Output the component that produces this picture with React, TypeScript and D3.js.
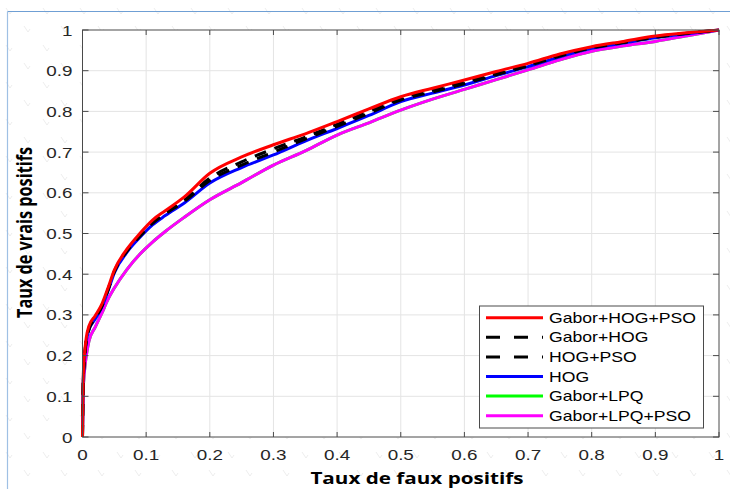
import React from "react";
import * as d3 from "d3";

// False positive rate sample points shared by every ROC curve
const fpr = [0, 0.001, 0.003, 0.006, 0.01, 0.02, 0.03, 0.04, 0.05, 0.07, 0.09, 0.11, 0.13, 0.16, 0.2, 0.25, 0.3, 0.35, 0.4, 0.45, 0.5, 0.55, 0.6, 0.65, 0.7, 0.75, 0.8, 0.85, 0.9, 0.95, 1];

// True positive rates per descriptor combination
const tprGaborHogPso = [0, 0.14, 0.2, 0.245, 0.272, 0.298, 0.325, 0.366, 0.41, 0.462, 0.5, 0.533, 0.556, 0.59, 0.648, 0.688, 0.718, 0.745, 0.775, 0.806, 0.836, 0.857, 0.877, 0.898, 0.918, 0.941, 0.959, 0.972, 0.985, 0.993, 1];
const tprGaborHog = [0, 0.13, 0.19, 0.24, 0.266, 0.294, 0.321, 0.362, 0.407, 0.458, 0.495, 0.527, 0.55, 0.582, 0.636, 0.676, 0.708, 0.737, 0.768, 0.8, 0.832, 0.852, 0.872, 0.893, 0.914, 0.938, 0.957, 0.97, 0.983, 0.992, 1];
const tprHogPso = [0, 0.13, 0.19, 0.238, 0.264, 0.292, 0.32, 0.361, 0.406, 0.457, 0.493, 0.525, 0.548, 0.579, 0.63, 0.668, 0.7, 0.732, 0.763, 0.795, 0.828, 0.848, 0.868, 0.89, 0.912, 0.936, 0.956, 0.969, 0.982, 0.992, 1];
const tprHog = [0, 0.13, 0.185, 0.235, 0.262, 0.29, 0.318, 0.358, 0.403, 0.454, 0.49, 0.521, 0.544, 0.575, 0.624, 0.662, 0.693, 0.727, 0.758, 0.79, 0.824, 0.845, 0.865, 0.888, 0.91, 0.934, 0.955, 0.968, 0.981, 0.991, 1];
const tprGaborLpq = [0, 0.11, 0.16, 0.2, 0.235, 0.27, 0.303, 0.338, 0.366, 0.412, 0.449, 0.479, 0.505, 0.54, 0.583, 0.625, 0.668, 0.703, 0.742, 0.772, 0.803, 0.83, 0.854, 0.878, 0.902, 0.927, 0.948, 0.961, 0.972, 0.986, 1];
const tprGaborLpqPso = [0, 0.11, 0.16, 0.2, 0.235, 0.27, 0.303, 0.338, 0.366, 0.412, 0.449, 0.479, 0.505, 0.54, 0.583, 0.625, 0.668, 0.703, 0.742, 0.772, 0.803, 0.83, 0.854, 0.878, 0.902, 0.927, 0.948, 0.961, 0.972, 0.986, 1];

const seriesNames = ["Gabor+HOG+PSO", "Gabor+HOG", "HOG+PSO", "HOG", "Gabor+LPQ", "Gabor+LPQ+PSO"];
const seriesColors = ["#ff0000", "#000000", "#000000", "#0000ff", "#00ff00", "#ff00ff"];
const seriesDashed = [false, true, true, false, false, false];
const seriesValues = [tprGaborHogPso, tprGaborHog, tprHogPso, tprHog, tprGaborLpq, tprGaborLpqPso];

const tickValues = [0, 0.1, 0.2, 0.3, 0.4, 0.5, 0.6, 0.7, 0.8, 0.9, 1];
const tickLabels = ["0", "0.1", "0.2", "0.3", "0.4", "0.5", "0.6", "0.7", "0.8", "0.9", "1"];

const xTitle = "Taux de faux positifs";
const yTitle = "Taux de vrais positifs";

const W = 730;
const H = 489;
const SX = 1.3; // horizontal stretch applied to all lettering

const plot = { left: 82.5, right: 719, top: 30, bottom: 437 };

export default function App() {
  const x = d3.scaleLinear().domain([0, 1]).range([plot.left, plot.right]);
  const y = d3.scaleLinear().domain([0, 1]).range([plot.bottom, plot.top]);

  const line = d3
    .line<number>()
    .x((_, i) => x(fpr[i]))
    .y((v) => y(v))
    .curve(d3.curveMonotoneX);

  const axisColor = "#4a4a4a";
  const gridColor = "#e4e4e4";
  const textColor = "#262626";

  const legend = { left: 479.5, top: 306, right: 703.5, bottom: 428, firstRow: 317.7, rowStep: 19.6 };

  // drawing order: the lower curves first so the upper ones stay on top
  const drawOrder = [4, 5, 3, 2, 1, 0];

  return (
    <svg
      width={W}
      height={H}
      style={{ position: "absolute", left: 0, top: 0, background: "#ffffff" }}
      fontFamily="'Liberation Sans', Arial, sans-serif"
    >
      <defs>
        <pattern id="bgmarks" width="37" height="37" patternUnits="userSpaceOnUse">
          <path d="M6 8 l4 6 l2 -3 M24 26 l4 6 l2 -3" stroke="#ededed" strokeWidth="1" fill="none" />
        </pattern>
      </defs>
      <rect x={0} y={0} width={W} height={H} fill="url(#bgmarks)" />

      {/* thin frame around the figure */}
      <line x1={7.5} x2={W} y1={11.5} y2={11.5} stroke="#6f9fd4" strokeWidth={1.2} />
      <line x1={7.5} x2={7.5} y1={11.5} y2={H} stroke="#9fc0e4" strokeWidth={1.2} />

      {/* plot area */}
      <rect x={plot.left} y={plot.top} width={plot.right - plot.left} height={plot.bottom - plot.top} fill="#ffffff" />

      {/* grid */}
      {tickValues.map((t) => (
        <g key={`g${t}`}>
          {t > 0 && t < 1 && (
            <>
              <line x1={x(t)} x2={x(t)} y1={plot.top} y2={plot.bottom} stroke={gridColor} strokeWidth={1} />
              <line x1={plot.left} x2={plot.right} y1={y(t)} y2={y(t)} stroke={gridColor} strokeWidth={1} />
            </>
          )}
        </g>
      ))}

      {/* curves */}
      {drawOrder.map((k) => (
        <path
          key={seriesNames[k]}
          d={line(seriesValues[k]) || ""}
          fill="none"
          stroke={seriesColors[k]}
          strokeWidth={3}
          strokeLinejoin="round"
          strokeDasharray={seriesDashed[k] ? "12,9" : undefined}
        />
      ))}

      {/* axes box and ticks */}
      <rect
        x={plot.left}
        y={plot.top}
        width={plot.right - plot.left}
        height={plot.bottom - plot.top}
        fill="none"
        stroke={axisColor}
        strokeWidth={1}
      />
      {tickValues.map((t) => (
        <g key={`t${t}`} stroke={axisColor} strokeWidth={1}>
          <line x1={x(t)} x2={x(t)} y1={plot.bottom} y2={plot.bottom - 5} />
          <line x1={x(t)} x2={x(t)} y1={plot.top} y2={plot.top + 5} />
          <line x1={plot.left} x2={plot.left + 6} y1={y(t)} y2={y(t)} />
          <line x1={plot.right} x2={plot.right - 6} y1={y(t)} y2={y(t)} />
        </g>
      ))}

      {/* tick labels */}
      {tickValues.map((t, i) => (
        <text
          key={`xl${t}`}
          transform={`translate(${x(t)},${460}) scale(${SX},1)`}
          textAnchor="middle"
          fontSize={14.5}
          fill={textColor}
        >
          {tickLabels[i]}
        </text>
      ))}
      {tickValues.map((t, i) => (
        <text
          key={`yl${t}`}
          transform={`translate(${72.5},${y(t) + 5.5}) scale(${SX},1)`}
          textAnchor="end"
          fontSize={14.5}
          fill={textColor}
        >
          {tickLabels[i]}
        </text>
      ))}

      {/* axis titles */}
      <text
        transform={`translate(${417},${484}) scale(${SX},1)`}
        textAnchor="middle"
        fontFamily="'Open Sans', sans-serif"
        fontWeight="bold"
        fontSize={16.5}
        fill="#000"
        textLength={164}
        lengthAdjust="spacingAndGlyphs"
      >
        {xTitle}
      </text>
      <text
        transform={`translate(${32},${232.5}) scale(${SX},1) rotate(-90)`}
        textAnchor="middle"
        fontFamily="'Open Sans', sans-serif"
        fontWeight="bold"
        fontSize={16.5}
        fill="#000"
        textLength={171}
        lengthAdjust="spacingAndGlyphs"
      >
        {yTitle}
      </text>

      {/* legend */}
      <rect
        x={legend.left}
        y={legend.top}
        width={legend.right - legend.left}
        height={legend.bottom - legend.top}
        fill="#ffffff"
        stroke={axisColor}
        strokeWidth={1}
      />
      {seriesNames.map((name, i) => {
        const cy = legend.firstRow + i * legend.rowStep;
        return (
          <g key={`lg${name}`}>
            <line
              x1={486}
              x2={543}
              y1={cy}
              y2={cy}
              stroke={seriesColors[i]}
              strokeWidth={3}
              strokeDasharray={seriesDashed[i] ? "14,14" : undefined}
            />
            <text
              transform={`translate(${549},${cy + 5}) scale(1.26,1)`}
              fontSize={14}
              fill="#000"
            >
              {name}
            </text>
          </g>
        );
      })}
    </svg>
  );
}
